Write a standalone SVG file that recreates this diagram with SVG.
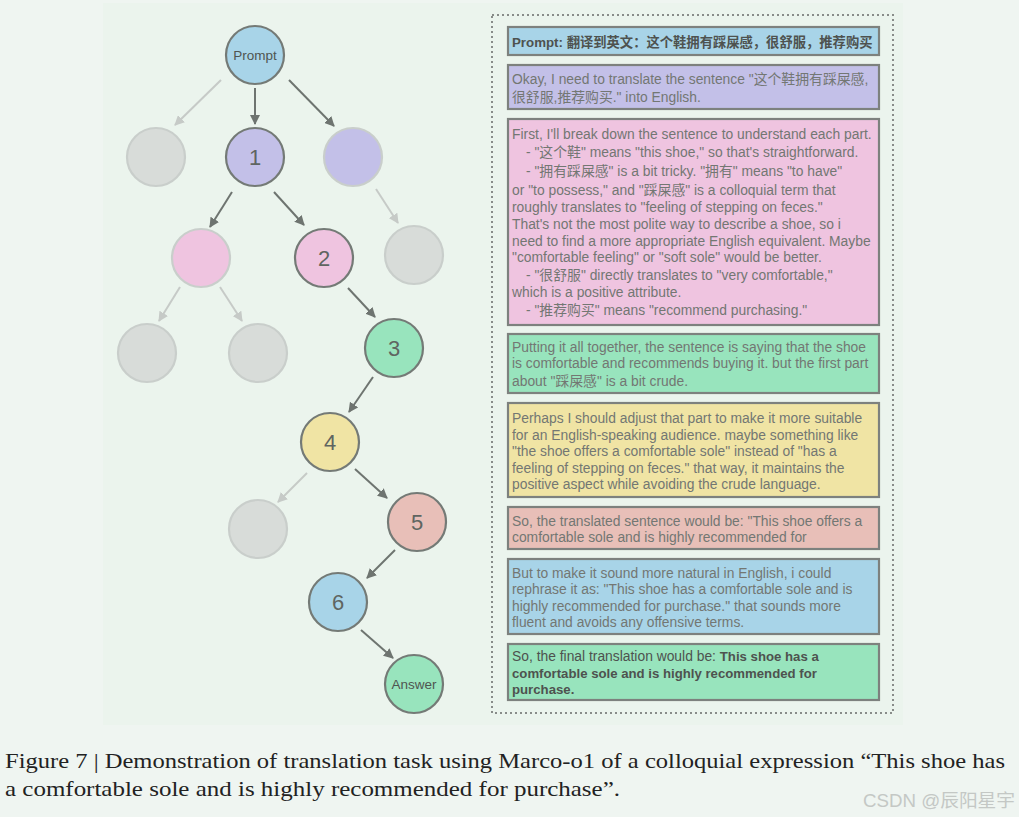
<svg xmlns="http://www.w3.org/2000/svg" width="1019" height="817" viewBox="0 0 1019 817">
<defs>
<style>
.node{stroke:#747a76;stroke-width:2.2}
.faded{stroke:#c9cecb;stroke-width:2.2}
.lbl{font-family:"Liberation Sans","Noto Sans CJK SC",sans-serif;fill:#5f6561;text-anchor:middle}
.num{font-size:22px}
.small{font-size:13.5px;fill:#4f5551}
.e{stroke:#6e7470;stroke-width:2;fill:none;marker-end:url(#ad)}
.ef{stroke:#c6cac7;stroke-width:2;fill:none;marker-end:url(#al)}
.box{stroke:#7d817e;stroke-width:2.2}
.t{font-family:"Liberation Sans","Noto Sans CJK SC",sans-serif;font-size:13.85px;fill:#737773}
.dk{fill:#4e524f}
.b{font-weight:bold;font-size:13.2px}
.cap{font-family:"Liberation Serif","Noto Sans CJK SC",serif;font-size:21px;fill:#222}
</style>
<marker id="ad" viewBox="0 0 10 10" refX="9" refY="5" markerWidth="5" markerHeight="5" orient="auto" markerUnits="strokeWidth"><path d="M0,0 L10,5 L0,10 z" fill="#6e7470"/></marker>
<marker id="al" viewBox="0 0 10 10" refX="9" refY="5" markerWidth="5" markerHeight="5" orient="auto" markerUnits="strokeWidth"><path d="M0,0 L10,5 L0,10 z" fill="#c6cac7"/></marker>
</defs>
<rect x="0" y="0" width="1019" height="817" fill="#eff5f1"/>
<rect x="103" y="3" width="800" height="722" fill="#ebf4ed"/>
<rect x="492" y="15" width="401" height="698" fill="none" stroke="#888c89" stroke-width="2" stroke-dasharray="2,3"/>

<g id="connectors">
<line class="ef" x1="221" y1="80" x2="175" y2="125"/>
<line class="e" x1="255" y1="88" x2="255" y2="124"/>
<line class="e" x1="289" y1="80" x2="334" y2="126"/>
<line class="e" x1="232" y1="192" x2="210" y2="227"/>
<line class="e" x1="274" y1="192" x2="304" y2="225"/>
<line class="ef" x1="376" y1="189" x2="398" y2="223"/>
<line class="ef" x1="180" y1="287" x2="159" y2="321"/>
<line class="ef" x1="220" y1="287" x2="242" y2="321"/>
<line class="e" x1="348" y1="288" x2="375" y2="317"/>
<line class="e" x1="373" y1="377" x2="349" y2="412"/>
<line class="ef" x1="307" y1="473" x2="278" y2="502"/>
<line class="e" x1="355" y1="469" x2="387" y2="498"/>
<line class="e" x1="395" y1="550" x2="367" y2="578"/>
<line class="e" x1="361" y1="630" x2="393" y2="658"/>
</g>

<g id="n-prompt"><circle class="node" cx="255" cy="55" r="29" fill="#a8d4e8"/><text class="lbl small" x="255" y="60">Prompt</text></g>
<g id="n-g1"><circle class="faded" cx="156" cy="157" r="29" fill="#d8dcd9"/></g>
<g id="n-1"><circle class="node" cx="255" cy="157" r="29" fill="#c3c0e8"/><text class="lbl num" x="255" y="165">1</text></g>
<g id="n-p1"><circle class="faded" cx="353" cy="157" r="29" fill="#c3c0e8"/></g>
<g id="n-pk"><circle class="faded" cx="201" cy="258" r="29" fill="#efc4e0"/></g>
<g id="n-2"><circle class="node" cx="324" cy="258" r="29" fill="#efc4e0"/><text class="lbl num" x="324" y="266">2</text></g>
<g id="n-g2"><circle class="faded" cx="414" cy="255" r="29" fill="#d8dcd9"/></g>
<g id="n-g3"><circle class="faded" cx="147" cy="353" r="29" fill="#d8dcd9"/></g>
<g id="n-g4"><circle class="faded" cx="258" cy="353" r="29" fill="#d8dcd9"/></g>
<g id="n-3"><circle class="node" cx="394" cy="348" r="29" fill="#98e4bd"/><text class="lbl num" x="394" y="356">3</text></g>
<g id="n-4"><circle class="node" cx="330" cy="442" r="29" fill="#f0e4a4"/><text class="lbl num" x="330" y="450">4</text></g>
<g id="n-g5"><circle class="faded" cx="258" cy="529" r="29" fill="#d8dcd9"/></g>
<g id="n-5"><circle class="node" cx="417" cy="522" r="29" fill="#e8bfb8"/><text class="lbl num" x="417" y="530">5</text></g>
<g id="n-6"><circle class="node" cx="338" cy="602" r="29" fill="#a8d4e8"/><text class="lbl num" x="338" y="610">6</text></g>
<g id="n-answer"><circle class="node" cx="414" cy="684" r="29" fill="#98e4bd"/><text class="lbl small" x="414" y="689">Answer</text></g>

<g id="b-prompt"><rect class="box" x="508" y="27" width="371" height="28" fill="#a8d4e8"/>
<text class="t dk" x="512" y="47" style="font-size:13.3px;font-weight:bold">Prompt: 翻译到英文：这个鞋拥有踩屎感，很舒服，推荐购买</text></g>
<g id="b-1"><rect class="box" x="508" y="65" width="371" height="44" fill="#c3c0e8"/>
<text class="t" x="512" y="84">Okay, I need to translate the sentence "这个鞋拥有踩屎感,</text>
<text class="t" x="512" y="102">很舒服,推荐购买." into English.</text></g>
<g id="b-2"><rect class="box" x="508" y="119" width="371" height="206" fill="#efc4e0"/>
<text class="t" x="512" y="139">First, I'll break down the sentence to understand each part.</text>
<text class="t" x="526" y="157">- "这个鞋" means "this shoe," so that's straightforward.</text>
<text class="t" x="526" y="176">- "拥有踩屎感" is a bit tricky. "拥有" means "to have"</text>
<text class="t" x="512" y="195">or "to possess," and "踩屎感" is a colloquial term that</text>
<text class="t" x="512" y="212">roughly translates to "feeling of stepping on feces."</text>
<text class="t" x="512" y="229">That's not the most polite way to describe a shoe, so i</text>
<text class="t" x="512" y="246">need to find a more appropriate English equivalent. Maybe</text>
<text class="t" x="512" y="262">"comfortable feeling" or "soft sole" would be better.</text>
<text class="t" x="526" y="280">- "很舒服" directly translates to "very comfortable,"</text>
<text class="t" x="512" y="297">which is a positive attribute.</text>
<text class="t" x="526" y="315">- "推荐购买" means "recommend purchasing."</text></g>
<g id="b-3"><rect class="box" x="508" y="334" width="371" height="59" fill="#98e4bd"/>
<text class="t" x="512" y="352">Putting it all together, the sentence is saying that the shoe</text>
<text class="t" x="512" y="368">is comfortable and recommends buying it. but the first part</text>
<text class="t" x="512" y="386">about "踩屎感" is a bit crude.</text></g>
<g id="b-4"><rect class="box" x="508" y="403" width="371" height="94" fill="#f0e4a4"/>
<text class="t" x="512" y="423">Perhaps I should adjust that part to make it more suitable</text>
<text class="t" x="512" y="440">for an English-speaking audience. maybe something like</text>
<text class="t" x="512" y="456">"the shoe offers a comfortable sole" instead of "has a</text>
<text class="t" x="512" y="473">feeling of stepping on feces." that way, it maintains the</text>
<text class="t" x="512" y="489">positive aspect while avoiding the crude language.</text></g>
<g id="b-5"><rect class="box" x="508" y="507" width="371" height="42" fill="#e8bfb8"/>
<text class="t" x="512" y="526">So, the translated sentence would be: "This shoe offers a</text>
<text class="t" x="512" y="542">comfortable sole and is highly recommended for</text></g>
<g id="b-6"><rect class="box" x="508" y="559" width="371" height="75" fill="#a8d4e8"/>
<text class="t" x="512" y="578">But to make it sound more natural in English, i could</text>
<text class="t" x="512" y="594">rephrase it as: "This shoe has a comfortable sole and is</text>
<text class="t" x="512" y="611">highly recommended for purchase." that sounds more</text>
<text class="t" x="512" y="627">fluent and avoids any offensive terms.</text></g>
<g id="b-7"><rect class="box" x="508" y="644" width="371" height="56" fill="#98e4bd"/>
<text class="t dk" x="512" y="661">So, the final translation would be: <tspan class="b">This shoe has a</tspan></text>
<text class="t dk b" x="512" y="678">comfortable sole and is highly recommended for</text>
<text class="t dk b" x="512" y="694">purchase.</text></g>

<text class="cap" x="5" y="768" textLength="1000" lengthAdjust="spacingAndGlyphs">Figure 7 | Demonstration of translation task using Marco-o1 of a colloquial expression “This shoe has</text>
<text class="cap" x="5" y="796" textLength="615" lengthAdjust="spacingAndGlyphs">a comfortable sole and is highly recommended for purchase”.</text>
<text x="863" y="807" font-family="Liberation Sans,Noto Sans CJK SC,sans-serif" font-size="18" fill="#c4c8c5" textLength="152" lengthAdjust="spacingAndGlyphs">CSDN @辰阳星宇</text>
</svg>
